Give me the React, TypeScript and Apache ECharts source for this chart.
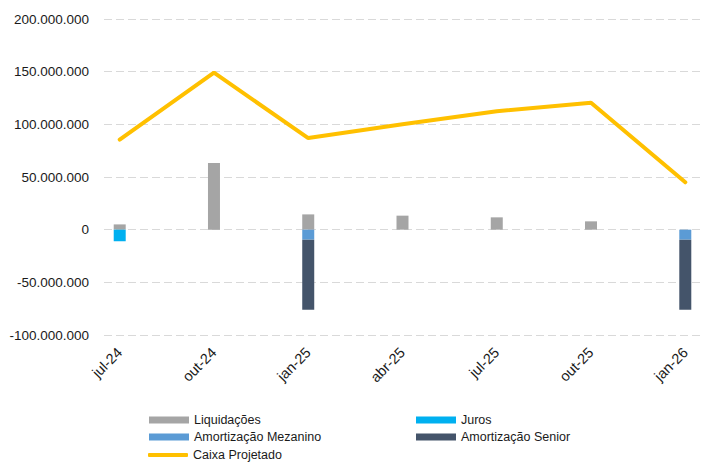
import React, { useEffect, useRef } from "react";
import * as echarts from "echarts";

const months = [
  "jul-24", "ago-24", "set-24", "out-24", "nov-24", "dez-24",
  "jan-25", "fev-25", "mar-25", "abr-25", "mai-25", "jun-25",
  "jul-25", "ago-25", "set-25", "out-25", "nov-25", "dez-25", "jan-26",
];

const liquidacoes = [5000000, null, null, 63400000, null, null, 14500000, null, null, 13300000, null, null, 11700000, null, null, 7900000, null, null, null];
const juros = [-11000000, null, null, null, null, null, null, null, null, null, null, null, null, null, null, null, null, null, null];
const amortMezanino = [null, null, null, null, null, null, -9500000, null, null, null, null, null, null, null, null, null, null, null, -9500000];
const amortSenior = [null, null, null, null, null, null, -66500000, null, null, null, null, null, null, null, null, null, null, null, -66500000];
const caixaProjetado = [85500000, null, null, 149000000, null, null, 87000000, null, null, 100000000, null, null, 112500000, null, null, 120500000, null, null, 45000000];

const fmt = (v: number) => {
  const s = Math.abs(v).toString().replace(/\B(?=(\d{3})+(?!\d))/g, ".");
  return (v < 0 ? "-" : "") + s;
};

export default function App() {
  const ref = useRef<HTMLDivElement>(null);
  useEffect(() => {
    if (!ref.current) return;
    const chart = echarts.init(ref.current, undefined, { renderer: "svg" });
    const font = "'Liberation Sans', Arial, sans-serif";
    const barCommon = {
      type: "bar" as const,
      stack: "total",
      barWidth: 12,
    };
    const legendText = { fontSize: 12.5, color: "#1a1a1a", fontFamily: font };
    const mkLegend = (name: string, left: number, centerY: number, icon: string, h: number) => ({
      left,
      top: centerY - 7,
      orient: "horizontal",
      itemWidth: 40,
      itemHeight: h,
      padding: 0,
      textStyle: { ...legendText, lineHeight: 14 },
      data: [{ name, icon }],
    });
    chart.setOption({
      animation: false,
      backgroundColor: "#ffffff",
      textStyle: { fontFamily: font },
      grid: { left: 104, right: 0, top: 19, bottom: 128, containLabel: false },
      legend: [
        mkLegend("Liquidações", 149, 420, "rect", 7),
        mkLegend("Amortização Mezanino", 149, 437, "rect", 7),
        mkLegend("Caixa Projetado", 148, 455, "roundRect", 4),
        mkLegend("Juros", 416, 420, "rect", 7),
        mkLegend("Amortização Senior", 416, 437, "rect", 7),
      ],
      xAxis: {
        type: "category",
        data: months,
        boundaryGap: true,
        axisLine: { show: false },
        axisTick: { show: false },
        axisLabel: {
          interval: 2,
          rotate: 45,
          margin: 15,
          fontSize: 14.5,
          color: "#1a1a1a",
          fontFamily: font,
        },
      },
      yAxis: {
        type: "value",
        min: -100000000,
        max: 200000000,
        interval: 50000000,
        axisLine: { show: false },
        axisTick: { show: false },
        axisLabel: {
          margin: 15,
          fontSize: 13.5,
          color: "#1a1a1a",
          fontFamily: font,
          formatter: (v: number) => fmt(v),
        },
        splitLine: { lineStyle: { color: "#D9D9D9", type: [8, 4], width: 1.2 } },
      },
      series: [
        { ...barCommon, name: "Liquidações", data: liquidacoes, itemStyle: { color: "#A5A5A5" } },
        { ...barCommon, name: "Juros", data: juros, itemStyle: { color: "#00B0F0" } },
        { ...barCommon, name: "Amortização Mezanino", data: amortMezanino, itemStyle: { color: "#5B9BD5" } },
        { ...barCommon, name: "Amortização Senior", data: amortSenior, itemStyle: { color: "#44546A" } },
        {
          type: "line",
          name: "Caixa Projetado",
          data: caixaProjetado,
          connectNulls: true,
          symbol: "none",
          lineStyle: { color: "#FFC000", width: 4, cap: "round" },
          itemStyle: { color: "#FFC000" },
          z: 5,
        },
      ],
    });
    return () => chart.dispose();
  }, []);
  return <div ref={ref} style={{ width: 701, height: 463, position: "absolute", left: 0, top: 0 }} />;
}
